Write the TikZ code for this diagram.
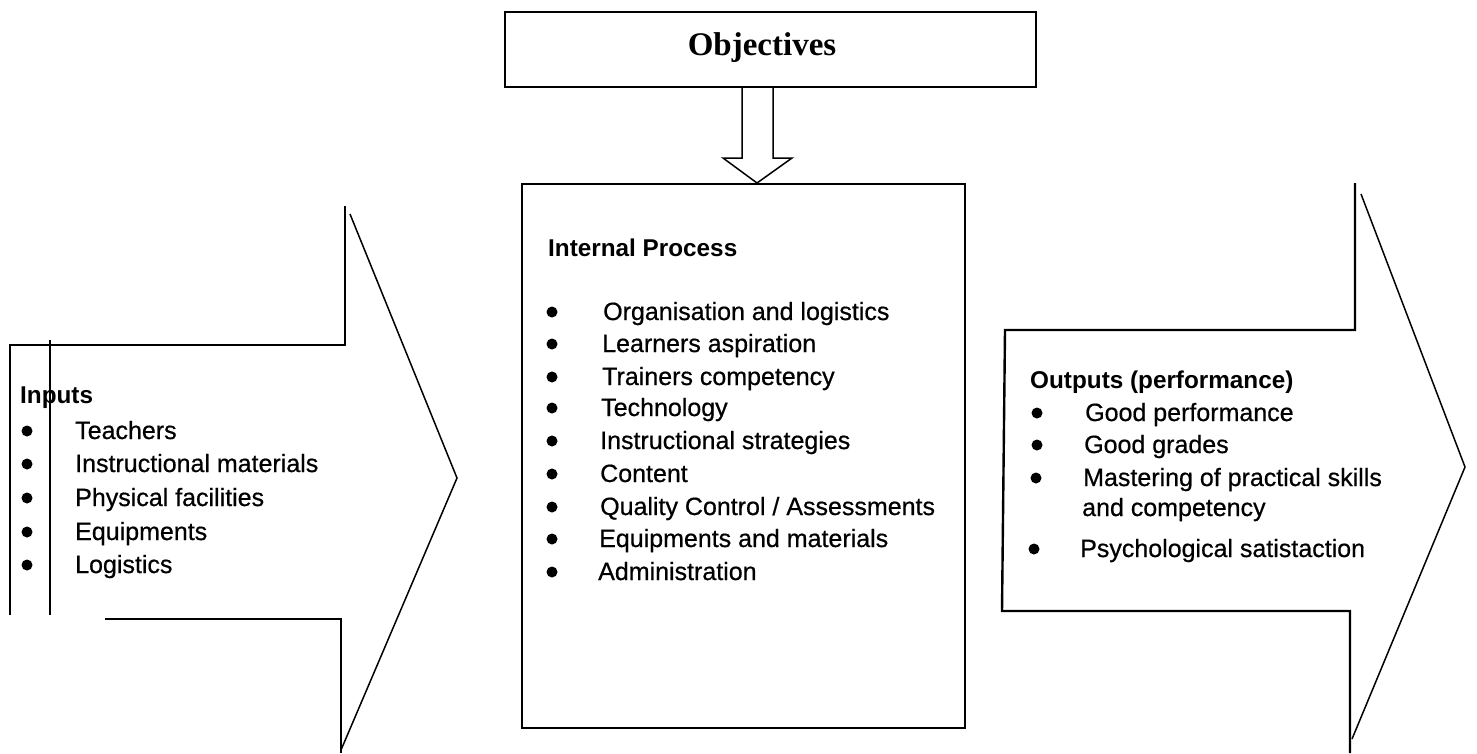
\documentclass[tikz,border=0pt]{standalone}
\usepackage{fontspec}
\setmainfont{Liberation Sans}
\newfontfamily\itemfont[FakeBold=0.6]{Liberation Sans}
\newfontfamily\headserif{Liberation Serif}
\begin{document}
\begin{tikzpicture}[x=1pt,y=-1pt,
  outline/.style={draw=black,line width=2.4pt,line join=miter},
  thinline/.style={draw=black,line width=1.5pt},
  item/.style={anchor=base west,inner sep=0pt,font=\itemfont\fontsize{25}{30}\selectfont},
  head/.style={anchor=base west,inner sep=0pt,font=\fontsize{24.3}{30}\selectfont\bfseries},
  dot/.style={circle,fill=black,inner sep=0pt,minimum size=11pt}]
\useasboundingbox (0,0) rectangle (1477,753);

% Objectives box
\node[outline,minimum width=531pt,minimum height=75pt,inner sep=0pt] (obj) at (770.5,49.5) {};
\node[inner sep=0pt,font=\headserif\fontsize{33}{36}\selectfont\bfseries,anchor=base] (objt) at (762,55) {Objectives};

% Internal process box
\node[outline,minimum width=443pt,minimum height=544pt,inner sep=0pt] (proc) at (743.5,456) {};

% hollow arrow from the objectives down to the process box
\coordinate (hl) at (742,87);
\coordinate (hr) at (773,87);
\coordinate (tip) at (757,183);
\draw[thinline] (hl) -- (742,158) -- (723,158) -- (tip) -- (792,158) -- (773,158) -- (hr);

% Input arrow
\draw[outline] (105,619) -- (341,619) -- (341,753);
\draw[outline] (10,615) -- (10,345) -- (345,345) -- (345,206);
\draw[thinline] (350,214) -- (457,478) -- (341,750);
\draw[thinline] (50,340) -- (50,615);

% Output arrow
\draw[outline] (1350,753) -- (1350,611) -- (1002,611) -- (1005,330) -- (1355,330) -- (1355,183);
\draw[thinline] (1361,194) -- (1465,467) -- (1352,739);

% Inputs
\node[head] (inh) at (20,403) {Inputs};
\foreach \t/\yy [count=\i] in {Teachers/439,Instructional materials/472,Physical facilities/506,Equipments/540,Logistics/573}{
  \node[dot] (ind\i) at (27,\yy-8) {};
  \node[item] (in\i) at (75,\yy) {\t};
}

% Internal process
\node[head] (iph) at (548,256) {Internal Process};
\foreach \t/\yy/\xx [count=\i] in {Organisation and logistics/320/603,Learners aspiration/352/602,Trainers competency/385/602,Technology/416/601,Instructional strategies/449/600,Content/482/600,{Quality Control / Assessments}/515/600,Equipments and materials/547/599,Administration/580/598}{
  \node[dot] (ipd\i) at (552,\yy-8) {};
  \node[item] (ip\i) at (\xx,\yy) {\t};
}

% Outputs
\node[head] (outh) at (1030,388) {Outputs (performance)};
\node[dot] (od1) at (1037,413) {};
\node[item] (o1) at (1085,421) {Good performance};
\node[dot] (od2) at (1037,445) {};
\node[item] (o2) at (1084,453) {Good grades};
\node[dot] (od3) at (1036,478) {};
\node[item] (o3) at (1083,486) {Mastering of practical skills};
\node[item] (o3b) at (1082,516) {and competency};
\node[dot] (od4) at (1034,549) {};
\node[item] (o4) at (1080,557) {Psychological satistaction};
\end{tikzpicture}
\end{document}
